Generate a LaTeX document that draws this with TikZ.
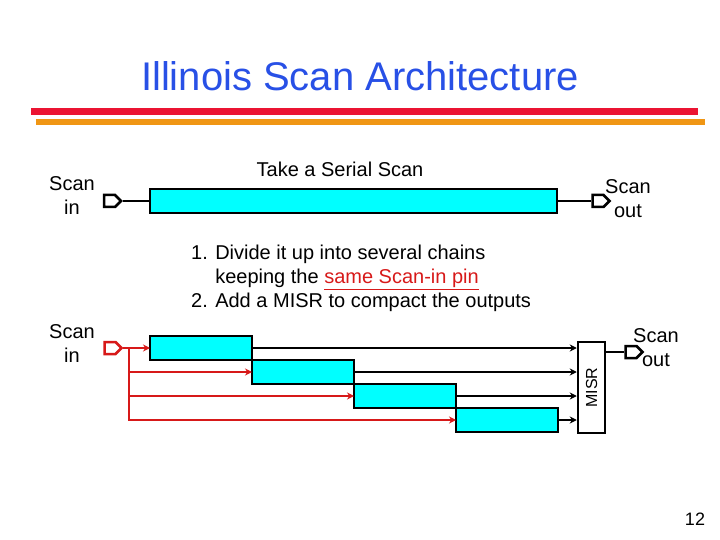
\documentclass[tikz,border=0pt]{standalone}
\usepackage{fontspec}
\setmainfont{Liberation Sans}
\usetikzlibrary{calc, positioning, shapes.symbols, arrows.meta}
\definecolor{titleblue}{RGB}{40,80,230}
\definecolor{barred}{RGB}{235,20,50}
\definecolor{barorange}{RGB}{240,150,20}
\definecolor{wirered}{RGB}{215,25,25}
\definecolor{chaincyan}{RGB}{0,255,255}
\tikzstyle{chainbox}=[
rectangle,
draw,
fill=chaincyan,
line width=2.5pt,
inner sep=0pt,
outer sep=0pt,
minimum height=24pt,
]
\tikzstyle{iopin}=[
signal,
signal to=east,
draw,
line width=2.5pt,
inner sep=0pt,
minimum width=17pt,
minimum height=12pt,
]
\tikzstyle{tagtext}=[
font=\fontsize{20}{24}\selectfont,
align=center,
inner sep=0pt,
]
\tikzstyle{wire}=[
line width=2.5pt,
]
\begin{document}
\begin{tikzpicture}
        [x=1pt, y=-1pt, >={Stealth[length=7pt,width=7pt]}]
        \useasboundingbox (0,0) rectangle (720,540);

        % title and bars
        \node[anchor=base, font=\fontsize{40}{48}\selectfont, text=titleblue, inner sep=0pt] (title) at (360,91) {Illinois Scan Architecture};
        \fill[barred] (31,108) rectangle (698,115);
        \fill[barorange] (36,119) rectangle (705,125);

        % serial scan
        \node[tagtext] (sin) at (72,196) {Scan\\in};
        \node[iopin] (pa) at (109.5,201) {};
        \node[chainbox, minimum width=407pt] (serial) at (353.5,201) {};
        \node[iopin] (pb) at (598,201) {};
        \node[tagtext] (sout) at (628,199) {Scan\\out};
        \node[tagtext, anchor=base] (take) at (340,177) {Take a Serial Scan};
        \draw[wire] (pa) -- (serial);
        \draw[wire] (serial) -- (pb);

        \node[tagtext, align=left, anchor=north west] (steps) at (191,245) {1. Divide it up into several chains\\
          \phantom{1. }keeping the \textcolor{wirered}{\underline{same Scan-in pin}}\\
          2. Add a MISR to compact the outputs};

        % split chains
        \node[tagtext] (sin2) at (72,344) {Scan\\in};
        \node[iopin, draw=wirered] (pc) at (110,348) {};
        \begin{scope}[every node/.style={chainbox, minimum width=102pt}]
          \node (c1) at (201,348) {};
          \node[anchor=north west] (c2) at (c1.south east) {};
          \node[anchor=north west] (c3) at (c2.south east) {};
          \node[anchor=north west] (c4) at (c3.south east) {};
        \end{scope}

        \node[draw, line width=2.5pt, minimum width=27pt, minimum height=91pt, inner sep=0pt] (misr) at (591.5,387.5) {};
        \node[rotate=90, font=\fontsize{16}{18}\selectfont] (misrtext) at (misr.center) {MISR};
        \node[iopin] (pd) at (631,352) {};
        \node[tagtext] (sout2) at (656,348) {Scan\\out};
        \node[anchor=base, font=\fontsize{18}{20}\selectfont, inner sep=0pt] (page) at (695,525) {12};

        \coordinate (fan) at (129,348);
        \draw[wire, wirered, ->] (pc) -- (c1);
        \draw[wire, wirered, ->] (fan) |- (c2.west);
        \draw[wire, wirered, ->] (fan) |- (c3.west);
        \draw[wire, wirered, ->] (fan) |- (c4.west);

        \draw[wire, ->] (c1.east) -- (c1.east -| misr.west);
        \draw[wire, ->] (c2.east) -- (c2.east -| misr.west);
        \draw[wire, ->] (c3.east) -- (c3.east -| misr.west);
        \draw[wire, ->] (c4.east) -- (c4.east -| misr.west);
        \draw[wire] (pd.west -| misr.east) -- (pd);
      \end{tikzpicture}
\end{document}
